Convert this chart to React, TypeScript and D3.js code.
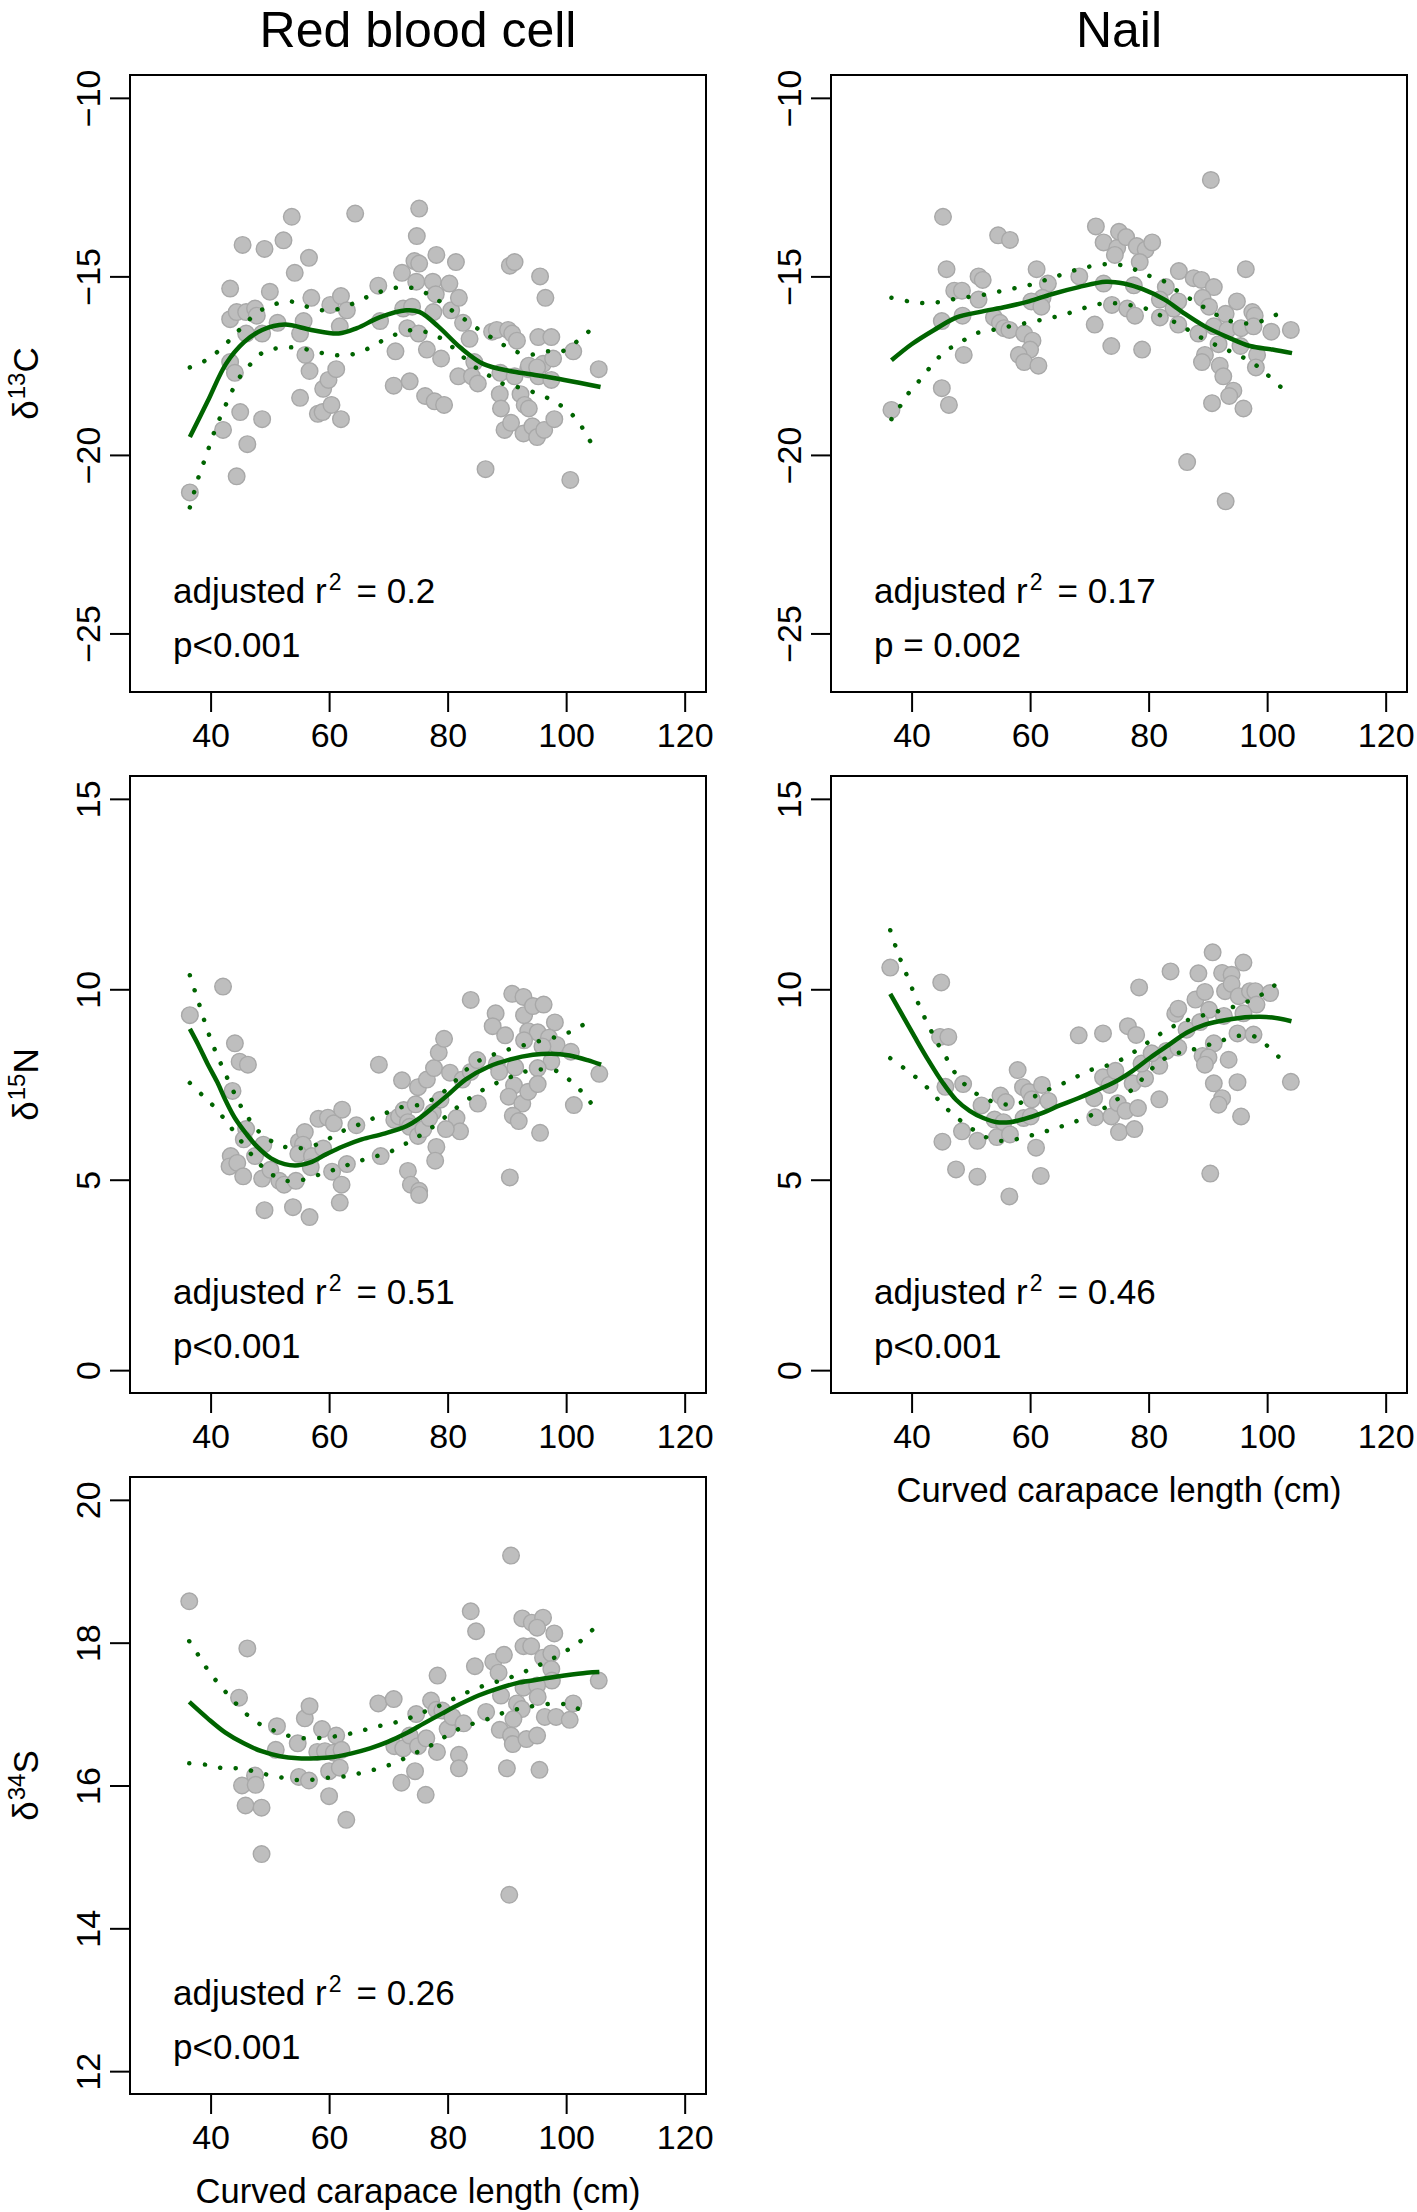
import { useRef, useEffect } from 'react'
import * as d3 from 'd3'

// scatter data: [curved carapace length (cm), isotope value]
const rbcC = [
  [36.5, -21.05], [43.3, -15.34], [45.4, -14.12], [49.1, -14.23], [52.3, -13.99], [53.7, -13.33], [54.2, -14.9], [56.6, -14.48],
  [64.4, -13.24], [50.0, -15.43], [43.3, -16.2], [44.4, -16.0], [46.0, -16.0], [47.5, -15.9], [47.8, -16.1], [46.0, -16.6],
  [48.7, -16.6], [51.3, -16.3], [43.3, -17.4], [44.1, -17.7], [45.0, -18.8], [48.7, -19.0], [42.1, -19.3], [46.2, -19.7],
  [44.4, -20.6], [55.1, -16.6], [55.7, -16.25], [57.0, -15.6], [56.0, -17.2], [56.7, -17.65], [55.1, -18.4], [58.1, -18.85],
  [58.9, -18.8], [59.0, -18.15], [59.9, -17.9], [61.2, -17.6], [60.4, -18.6], [62.0, -19.0], [60.2, -15.8], [62.0, -15.55],
  [63.0, -15.95], [61.8, -16.4], [68.3, -15.26], [68.6, -16.25], [71.2, -17.1], [70.9, -18.06], [73.6, -17.94], [72.3, -14.9],
  [75.2, -13.1], [74.8, -13.87], [74.4, -14.57], [75.2, -14.64], [74.7, -15.15], [72.5, -15.9], [74.0, -15.85], [73.2, -16.45],
  [75.1, -16.6], [78.1, -14.4], [77.5, -15.15], [76.5, -17.05], [78.9, -17.3], [76.2, -18.35], [77.8, -18.5], [79.4, -18.6],
  [81.4, -14.6], [80.3, -15.2], [78.0, -15.5], [77.6, -16.0], [80.6, -15.95], [81.9, -15.6], [82.6, -16.3], [83.7, -16.75],
  [84.5, -17.4], [81.8, -17.8], [84.1, -17.8], [85.1, -18.0], [86.4, -20.4], [87.5, -16.55], [88.3, -16.5], [88.9, -17.7],
  [90.2, -16.5], [90.9, -16.6], [91.7, -16.8], [91.3, -17.8], [88.8, -18.3], [89.0, -18.7], [89.6, -19.3], [90.7, -19.1],
  [92.8, -19.4], [92.3, -18.3], [93.0, -18.6], [93.7, -18.7], [93.6, -17.6], [94.3, -19.2], [95.1, -19.5], [96.3, -19.3],
  [90.5, -14.7], [91.3, -14.6], [95.6, -15.0], [96.5, -15.6], [95.3, -16.7], [97.5, -16.7], [96.1, -17.45], [97.8, -17.3],
  [95.3, -17.8], [97.5, -17.9], [98.0, -19.0], [101.2, -17.1], [100.7, -20.7], [105.5, -17.6], [93.7, -17.5], [95.1, -17.55],
]
const nailC = [
  [36.6, -18.74], [45.3, -13.33], [45.9, -14.8], [45.1, -16.25], [45.1, -18.13], [46.3, -18.6], [47.2, -15.4], [48.5, -15.4],
  [48.6, -16.1], [48.8, -17.2], [51.3, -15.0], [52.0, -15.1], [51.3, -15.65], [54.6, -13.85], [56.6, -13.98], [53.9, -16.15],
  [54.9, -16.3], [55.6, -16.45], [56.5, -16.5], [59.0, -16.6], [60.4, -16.8], [60.0, -17.05], [58.1, -17.2], [59.0, -17.4],
  [61.4, -17.5], [61.1, -14.8], [63.0, -15.2], [62.1, -15.6], [60.2, -15.7], [61.9, -15.85], [68.3, -15.0], [71.1, -13.6],
  [72.4, -14.05], [74.7, -14.2], [75.0, -13.75], [76.2, -13.9], [74.3, -14.4], [78.0, -14.15], [79.5, -14.25], [80.6, -14.05],
  [78.5, -14.6], [72.4, -15.2], [77.5, -15.25], [70.9, -16.35], [73.8, -15.8], [76.4, -15.9], [77.7, -16.1], [73.7, -16.95],
  [78.9, -17.05], [90.5, -12.3], [85.1, -14.85], [82.9, -15.3], [81.9, -15.65], [84.2, -15.9], [85.0, -15.7], [81.9, -16.15],
  [85.0, -16.35], [87.6, -15.05], [88.9, -15.1], [91.0, -15.3], [89.1, -15.6], [90.2, -15.85], [88.4, -16.6], [91.0, -16.4],
  [93.0, -16.05], [91.8, -16.9], [93.3, -16.5], [94.9, -15.7], [96.4, -14.8], [95.6, -16.45], [95.5, -16.95], [97.5, -16.0],
  [97.9, -16.1], [97.7, -16.4], [98.3, -17.2], [98.1, -17.55], [89.5, -17.2], [89.0, -17.4], [92.0, -17.5], [92.6, -17.8],
  [94.3, -18.2], [93.6, -18.35], [90.7, -18.55], [96.0, -18.7], [86.5, -20.2], [93.0, -21.3], [100.7, -16.55], [104.0, -16.5],
]
const rbcN = [
  [36.5, 9.32], [42.1, 10.07], [44.1, 8.58], [44.9, 8.1], [46.3, 8.02], [43.7, 7.33], [46.0, 6.33], [45.6, 6.06],
  [48.9, 5.92], [43.4, 5.62], [43.2, 5.35], [44.5, 5.44], [45.5, 5.09], [47.5, 5.62], [48.7, 5.03], [50.1, 5.26],
  [51.6, 4.97], [52.4, 4.87], [54.4, 4.97], [49.1, 4.2], [53.9, 4.28], [56.7, 4.02], [54.9, 6.0], [55.9, 6.25],
  [55.6, 5.92], [54.8, 5.68], [57.1, 5.62], [56.9, 5.33], [59.0, 5.82], [58.2, 6.6], [59.8, 6.63], [60.8, 6.48],
  [62.2, 6.84], [60.5, 5.21], [62.1, 4.87], [61.8, 4.4], [63.0, 5.41], [64.6, 6.43], [68.4, 8.02], [68.7, 5.62],
  [71.0, 6.57], [71.8, 6.66], [72.6, 6.83], [73.3, 6.51], [72.3, 7.61], [75.0, 7.43], [74.6, 6.98], [73.6, 6.39],
  [75.0, 6.15], [75.9, 6.33], [77.5, 6.77], [76.9, 6.62], [78.8, 7.1], [76.5, 7.63], [77.7, 7.93], [78.5, 8.34],
  [79.4, 8.7], [80.4, 7.81], [82.5, 7.63], [83.9, 7.83], [85.0, 8.14], [81.5, 6.62], [82.1, 6.27], [79.7, 6.33],
  [78.1, 5.86], [77.9, 5.5], [73.3, 5.23], [73.8, 4.87], [75.2, 4.71], [75.2, 4.6], [83.9, 9.72], [88.1, 9.37],
  [87.6, 9.03], [89.7, 8.79], [90.9, 9.88], [92.8, 9.8], [92.9, 9.32], [94.4, 9.56], [96.2, 9.6], [98.1, 9.13],
  [93.6, 8.9], [95.2, 8.87], [97.1, 8.73], [98.4, 8.54], [92.9, 8.66], [96.0, 8.5], [100.8, 8.36], [97.5, 8.1],
  [95.2, 7.93], [88.3, 8.04], [88.7, 7.83], [91.4, 7.95], [91.2, 7.48], [90.3, 7.18], [92.6, 7.0], [93.6, 7.31],
  [95.2, 7.51], [91.0, 6.68], [92.0, 6.54], [85.1, 7.0], [95.6, 6.23], [101.3, 6.96], [90.5, 5.06], [105.6, 7.78],
]
const nailN = [
  [36.4, 10.57], [45.0, 10.18], [44.8, 8.75], [46.2, 8.75], [45.7, 7.44], [48.7, 7.51], [45.2, 6.0], [48.5, 6.27],
  [47.5, 5.27], [51.1, 5.08], [51.1, 6.02], [51.8, 6.95], [54.4, 6.12], [55.0, 7.21], [55.9, 7.04], [54.0, 6.58],
  [55.5, 6.51], [56.6, 6.19], [56.5, 4.56], [57.9, 7.88], [58.8, 7.43], [59.8, 7.3], [58.9, 6.62], [60.1, 6.66],
  [60.3, 7.11], [62.0, 7.49], [63.1, 7.07], [61.0, 5.84], [61.8, 5.1], [68.2, 8.79], [72.3, 8.84], [76.5, 9.03],
  [77.9, 8.8], [78.4, 10.05], [72.3, 7.69], [73.4, 7.49], [74.4, 7.86], [70.8, 7.14], [71.0, 6.64], [73.7, 6.66],
  [74.8, 7.01], [76.1, 6.81], [78.2, 6.88], [75.0, 6.25], [77.6, 6.33], [77.3, 7.53], [79.4, 7.66], [78.8, 8.05],
  [81.8, 7.99], [80.5, 8.32], [81.8, 7.11], [83.7, 10.47], [84.5, 9.36], [85.0, 9.49], [83.0, 8.38], [85.0, 8.47],
  [86.4, 8.94], [88.4, 10.42], [90.8, 10.97], [87.9, 9.73], [89.5, 9.93], [90.2, 9.46], [88.7, 9.14], [92.4, 10.43],
  [94.0, 10.38], [92.9, 9.95], [94.0, 10.14], [96.0, 10.7], [95.2, 9.82], [97.1, 9.95], [98.0, 9.95], [98.2, 9.6],
  [100.5, 9.9], [96.0, 9.37], [92.7, 9.3], [91.0, 8.58], [89.1, 8.25], [90.1, 8.21], [89.5, 8.02], [93.5, 8.15],
  [95.0, 8.84], [97.7, 8.81], [91.0, 7.53], [92.4, 7.14], [91.8, 6.97], [95.0, 7.56], [95.6, 6.66], [90.4, 5.16],
  [104.0, 7.57],
]
const rbcS = [
  [36.4, 18.58], [46.2, 17.92], [44.8, 17.23], [45.3, 16.0], [47.5, 16.14], [47.6, 16.01], [45.9, 15.72], [48.6, 15.69],
  [48.6, 15.04], [51.2, 16.83], [51.0, 16.5], [54.7, 16.59], [55.9, 16.94], [56.7, 17.11], [54.9, 16.12], [56.6, 16.07],
  [58.8, 16.79], [61.2, 16.7], [58.0, 16.47], [59.3, 16.48], [60.8, 16.46], [62.1, 16.5], [60.0, 16.2], [61.8, 16.25],
  [60.0, 15.85], [62.9, 15.52], [68.3, 17.15], [70.9, 17.21], [71.0, 16.55], [72.5, 16.52], [73.6, 16.7], [74.7, 17.0],
  [75.0, 16.55], [76.4, 16.66], [74.5, 16.2], [72.2, 16.04], [76.3, 15.87], [77.2, 17.19], [78.1, 17.06], [79.1, 17.05],
  [78.3, 17.54], [80.0, 16.79], [78.2, 16.47], [80.8, 16.96], [82.7, 16.87], [81.9, 16.43], [81.9, 16.24], [83.9, 18.44],
  [84.8, 18.16], [84.6, 17.67], [86.5, 17.03], [87.7, 17.73], [89.5, 17.83], [88.6, 17.58], [89.0, 17.26], [90.7, 19.22],
  [92.6, 18.34], [94.2, 18.28], [96.1, 18.35], [95.1, 18.21], [98.0, 18.13], [92.8, 17.95], [94.1, 17.95], [96.1, 17.79],
  [97.5, 17.85], [97.5, 17.63], [97.6, 17.47], [92.8, 17.37], [95.1, 17.4], [95.2, 17.24], [91.7, 17.15], [92.5, 17.07],
  [91.1, 16.93], [88.8, 16.78], [90.7, 16.7], [91.0, 16.58], [93.3, 16.65], [95.1, 16.7], [96.4, 16.96], [98.3, 16.96],
  [100.6, 16.92], [101.2, 17.15], [105.5, 17.47], [90.0, 16.24], [95.5, 16.22], [90.4, 14.47],
]

// fitted smooth (solid) and its confidence band (dotted)
const rbcCFit = [[36.5, -19.5], [39.5, -18.5], [42.6, -17.45], [45.6, -16.85], [48.7, -16.5], [52.5, -16.35], [57.0, -16.5], [61.6, -16.6], [64.7, -16.45], [68.5, -16.15], [73.0, -15.95], [75.3, -16.0], [78.4, -16.4], [82.2, -17.0], [86.0, -17.45], [90.5, -17.65], [94.3, -17.75], [99.7, -17.9], [105.8, -18.1]]
const rbcCUp = [[36.5, -17.55], [39.2, -17.35], [41.6, -17.05], [43.7, -16.7], [45.7, -16.35], [48.0, -16.0], [50.5, -15.8], [53.4, -15.7], [56.3, -15.85], [59.1, -15.95], [62.0, -15.9], [64.8, -15.7], [67.5, -15.5], [70.3, -15.35], [73.2, -15.3], [76.1, -15.45], [78.7, -15.7], [81.1, -16.0], [83.7, -16.3], [85.8, -16.55], [88.3, -16.8], [90.8, -17.05], [93.6, -17.2], [96.6, -17.1], [99.3, -17.1], [102.0, -16.8], [104.1, -16.5]]
const rbcCLo = [[36.5, -21.47], [37.3, -21.0], [38.2, -20.5], [39.2, -20.05], [40.1, -19.6], [41.1, -19.15], [42.3, -18.7], [43.5, -18.25], [45.0, -17.8], [46.8, -17.45], [49.1, -17.1], [51.9, -17.0], [54.8, -17.0], [57.6, -17.1], [60.6, -17.2], [63.4, -17.2], [66.2, -17.05], [69.0, -16.8], [71.7, -16.6], [74.4, -16.5], [77.1, -16.6], [79.5, -16.8], [81.9, -17.15], [84.3, -17.5], [86.7, -17.75], [89.2, -18.0], [91.8, -18.1], [94.6, -18.25], [97.4, -18.45], [99.8, -18.7], [102.0, -19.05], [103.6, -19.5], [105.2, -19.9]]

const nailCFit = [[36.6, -17.35], [40.0, -16.9], [43.8, -16.5], [47.6, -16.15], [51.4, -16.0], [56.0, -15.85], [59.8, -15.7], [63.6, -15.5], [68.2, -15.3], [72.8, -15.15], [75.8, -15.2], [78.9, -15.35], [82.7, -15.65], [85.7, -16.0], [89.5, -16.4], [93.3, -16.7], [97.1, -16.95], [100.9, -17.05], [104.2, -17.15]]
const nailCUp = [[36.6, -15.6], [39.5, -15.7], [42.4, -15.75], [45.3, -15.7], [48.2, -15.6], [51.1, -15.55], [54.0, -15.45], [56.9, -15.35], [59.7, -15.25], [62.6, -15.1], [65.3, -14.95], [68.1, -14.8], [70.9, -14.7], [73.9, -14.65], [76.8, -14.75], [79.5, -14.95], [82.2, -15.1], [84.8, -15.4], [87.2, -15.65], [89.7, -15.9], [92.3, -16.15], [95.0, -16.3], [97.9, -16.3], [100.6, -16.15], [103.4, -15.9]]
const nailCLo = [[36.6, -19.0], [38.2, -18.6], [39.8, -18.2], [41.7, -17.85], [43.6, -17.45], [45.7, -17.1], [48.2, -16.85], [50.8, -16.6], [53.7, -16.5], [56.5, -16.4], [59.5, -16.3], [62.4, -16.2], [65.1, -16.1], [68.0, -15.95], [70.8, -15.8], [73.6, -15.75], [76.6, -15.8], [79.5, -15.9], [82.1, -16.1], [84.6, -16.3], [87.2, -16.55], [89.8, -16.8], [92.4, -17.0], [95.1, -17.2], [97.8, -17.45], [100.0, -17.75], [102.3, -18.1]]

const rbcNFit = [[36.5, 8.96], [38.0, 8.52], [39.5, 8.04], [41.1, 7.57], [42.6, 7.06], [44.1, 6.62], [46.0, 6.21], [47.9, 5.86], [50.2, 5.56], [52.5, 5.41], [54.8, 5.38], [57.1, 5.47], [59.4, 5.66], [62.4, 5.88], [65.5, 6.06], [69.3, 6.21], [73.1, 6.41], [75.4, 6.63], [77.7, 6.92], [80.0, 7.22], [83.0, 7.63], [86.8, 7.96], [90.6, 8.16], [94.4, 8.28], [97.5, 8.31], [100.6, 8.26], [103.6, 8.14], [105.9, 8.02]]
const rbcNUp = [[36.5, 10.37], [37.4, 9.93], [38.3, 9.5], [39.2, 9.05], [40.2, 8.61], [41.3, 8.2], [42.4, 7.81], [43.7, 7.37], [45.0, 6.96], [46.6, 6.57], [48.1, 6.27], [51.0, 5.95], [53.7, 5.83], [56.6, 5.86], [59.4, 6.03], [61.9, 6.25], [64.6, 6.42], [67.3, 6.6], [69.9, 6.77], [72.6, 6.92], [75.6, 6.98], [78.3, 7.19], [80.6, 7.48], [82.6, 7.81], [84.8, 8.08], [87.6, 8.28], [90.5, 8.43], [93.3, 8.55], [96.2, 8.67], [99.0, 8.78], [101.7, 8.96], [104.2, 9.2]]
const rbcNLo = [[36.5, 7.54], [38.6, 7.22], [40.7, 6.9], [42.6, 6.54], [44.3, 6.19], [46.2, 5.8], [48.1, 5.44], [50.2, 5.15], [52.9, 4.97], [55.7, 5.0], [58.6, 5.15], [61.4, 5.29], [64.1, 5.44], [67.0, 5.58], [69.8, 5.7], [72.6, 5.92], [75.2, 6.15], [77.5, 6.39], [79.8, 6.67], [82.1, 6.96], [84.5, 7.22], [87.0, 7.45], [89.7, 7.63], [92.4, 7.81], [95.2, 7.89], [98.1, 7.87], [100.7, 7.6], [102.8, 7.28], [104.7, 6.91]]

const nailNFit = [[36.4, 9.88], [38.3, 9.36], [40.6, 8.73], [42.9, 8.12], [45.2, 7.56], [47.5, 7.1], [49.8, 6.81], [52.1, 6.62], [54.4, 6.51], [56.6, 6.51], [58.9, 6.59], [62.0, 6.75], [65.0, 6.95], [68.1, 7.14], [71.1, 7.34], [74.2, 7.56], [77.3, 7.86], [80.3, 8.21], [83.4, 8.54], [86.4, 8.86], [89.5, 9.07], [93.3, 9.2], [97.1, 9.27], [100.9, 9.26], [104.1, 9.16]]
const nailNUp = [[36.4, 11.55], [37.4, 11.08], [38.4, 10.67], [39.5, 10.25], [40.6, 9.82], [41.8, 9.39], [43.1, 8.97], [44.4, 8.58], [45.9, 8.19], [47.4, 7.79], [49.4, 7.44], [51.8, 7.18], [54.6, 7.01], [57.4, 6.98], [60.1, 7.14], [62.7, 7.34], [65.6, 7.53], [68.2, 7.73], [70.9, 7.92], [73.7, 8.03], [76.5, 8.25], [79.0, 8.51], [81.3, 8.76], [83.7, 8.99], [86.4, 9.18], [89.3, 9.32], [92.1, 9.44], [94.9, 9.57], [97.7, 9.75], [100.2, 9.97], [102.4, 10.27]]
const nailNLo = [[36.4, 8.19], [38.8, 7.92], [41.1, 7.64], [43.3, 7.31], [45.2, 6.98], [47.4, 6.66], [49.8, 6.38], [52.2, 6.14], [55.0, 6.02], [57.9, 6.07], [60.8, 6.19], [63.7, 6.32], [66.4, 6.46], [69.2, 6.62], [71.8, 6.81], [74.4, 7.08], [77.0, 7.34], [79.2, 7.69], [81.5, 8.05], [84.1, 8.29], [86.6, 8.38], [89.5, 8.51], [92.1, 8.64], [94.9, 8.77], [97.7, 8.77], [100.2, 8.49], [102.4, 8.15]]

const rbcSFit = [[36.4, 17.17], [39.5, 16.94], [42.5, 16.74], [45.6, 16.59], [48.6, 16.48], [51.7, 16.41], [54.7, 16.38], [57.8, 16.38], [60.8, 16.4], [63.8, 16.45], [66.9, 16.52], [69.9, 16.61], [73.0, 16.73], [76.0, 16.87], [79.1, 17.01], [82.1, 17.14], [85.2, 17.26], [88.2, 17.35], [92.0, 17.44], [95.8, 17.49], [99.7, 17.54], [103.5, 17.58], [105.6, 17.59]]
const rbcSUp = [[36.4, 18.02], [37.9, 17.83], [39.6, 17.61], [41.4, 17.42], [43.4, 17.23], [45.4, 17.05], [47.7, 16.89], [50.1, 16.79], [53.0, 16.7], [55.9, 16.66], [59.0, 16.67], [61.9, 16.7], [64.8, 16.75], [67.7, 16.82], [70.6, 16.87], [73.4, 16.94], [76.0, 17.03], [78.7, 17.12], [81.4, 17.23], [84.0, 17.33], [86.9, 17.42], [89.8, 17.49], [92.6, 17.58], [95.3, 17.68], [97.8, 17.78], [100.3, 17.9], [102.7, 18.04], [104.8, 18.21]]
const rbcSLo = [[36.4, 16.31], [39.3, 16.29], [42.3, 16.24], [45.2, 16.24], [48.0, 16.18], [51.0, 16.13], [54.0, 16.08], [57.0, 16.08], [59.9, 16.11], [62.9, 16.13], [65.6, 16.18], [68.4, 16.24], [71.2, 16.32], [73.9, 16.43], [76.5, 16.53], [79.1, 16.66], [81.6, 16.78], [84.4, 16.87], [87.1, 16.94], [89.8, 17.03], [92.4, 17.08], [95.1, 17.12], [98.7, 17.15], [101.3, 17.1], [104.0, 16.99]]

const xTicks = [40, 60, 80, 100, 120]
const cTicks = [-25, -20, -15, -10]
const nTicks = [0, 5, 10, 15]
const sTicks = [12, 14, 16, 18, 20]

const r2Labels = ['0.2', '0.17', '0.51', '0.46', '0.26']
const pLabels = ['p<0.001', 'p = 0.002', 'p<0.001', 'p<0.001', 'p<0.001']
const titles = ['Red blood cell', 'Nail']

const FONT = '"Liberation Sans", Arial, Helvetica, sans-serif'
const W = 1417
const H = 2212
const boxW = 576
const boxH = 617
const colLeft = [130, 831]
const rowTop = [75, 776, 1477]
const green = '#006400'

const panels = [
  { col: 0, row: 0, pts: rbcC, fit: rbcCFit, up: rbcCUp, lo: rbcCLo, ylim: [-26, -10], ticks: cTicks, iso: '13', el: 'C', xlab: false },
  { col: 1, row: 0, pts: nailC, fit: nailCFit, up: nailCUp, lo: nailCLo, ylim: [-26, -10], ticks: cTicks, iso: '', el: '', xlab: false },
  { col: 0, row: 1, pts: rbcN, fit: rbcNFit, up: rbcNUp, lo: rbcNLo, ylim: [0, 15], ticks: nTicks, iso: '15', el: 'N', xlab: false },
  { col: 1, row: 1, pts: nailN, fit: nailNFit, up: nailNUp, lo: nailNLo, ylim: [0, 15], ticks: nTicks, iso: '', el: '', xlab: true },
  { col: 0, row: 2, pts: rbcS, fit: rbcSFit, up: rbcSUp, lo: rbcSLo, ylim: [12, 20], ticks: sTicks, iso: '34', el: 'S', xlab: true },
]

// R-style 4% axis expansion
const expand = ([a, b]: number[]) => {
  const d = (b - a) * 0.04
  return [a - d, b + d]
}

const App = () => {
  const ref = useRef<SVGSVGElement>(null)

  useEffect(() => {
    document.body.style.margin = '0'
    const svg = d3.select(ref.current as SVGSVGElement)
    svg.selectAll('*').remove()
    svg.append('rect').attr('width', W).attr('height', H).attr('fill', '#fff')

    const x = d3.scaleLinear().domain(expand([30, 120])).range([0, boxW])

    titles.forEach((t, i) => {
      svg
        .append('text')
        .attr('x', colLeft[i] + boxW / 2)
        .attr('y', 47)
        .attr('text-anchor', 'middle')
        .attr('font-size', 50)
        .attr('font-family', FONT)
        .text(t)
    })

    panels.forEach((p, i) => {
      const y = d3.scaleLinear().domain(expand(p.ylim)).range([boxH, 0])
      const g = svg.append('g').attr('transform', `translate(${colLeft[p.col]},${rowTop[p.row]})`)

      // points
      g.append('g')
        .selectAll('circle')
        .data(p.pts)
        .enter()
        .append('circle')
        .attr('cx', (d) => x(d[0]))
        .attr('cy', (d) => y(d[1]))
        .attr('r', 8.3)
        .attr('fill', '#bebebe')
        .attr('stroke', '#a8a8a8')
        .attr('stroke-width', 1.4)

      const line = d3
        .line<number[]>()
        .x((d) => x(d[0]))
        .y((d) => y(d[1]))
        .curve(d3.curveCatmullRom.alpha(0.5))

      ;[p.up, p.lo].forEach((band) => {
        g.append('path')
          .attr('d', line(band))
          .attr('fill', 'none')
          .attr('stroke', green)
          .attr('stroke-width', 4.5)
          .attr('stroke-linecap', 'round')
          .attr('stroke-dasharray', '0.1 15.5')
      })

      g.append('path')
        .attr('d', line(p.fit))
        .attr('fill', 'none')
        .attr('stroke', green)
        .attr('stroke-width', 4.5)

      // box
      g.append('rect')
        .attr('width', boxW)
        .attr('height', boxH)
        .attr('fill', 'none')
        .attr('stroke', '#000')
        .attr('stroke-width', 2)

      // x axis
      const xa = g
        .append('g')
        .attr('transform', `translate(0,${boxH})`)
        .call(d3.axisBottom(x).tickValues(xTicks).tickSize(20).tickFormat(d3.format('d')))
      xa.select('.domain').remove()
      xa.selectAll('line').attr('stroke-width', 2)
      xa.selectAll('text')
        .attr('y', 55)
        .attr('dy', null)
        .attr('fill', '#000')
        .attr('font-size', 34)
        .attr('font-family', FONT)

      // y axis, labels rotated like R's default las = 0
      const ya = g.append('g').call(d3.axisLeft(y).tickValues(p.ticks).tickSize(20).tickFormat(d3.format('d')))
      ya.select('.domain').remove()
      ya.selectAll('line').attr('stroke-width', 2)
      ya.selectAll('text')
        .attr('transform', 'rotate(-90)')
        .attr('x', 0)
        .attr('y', -30)
        .attr('dy', null)
        .attr('text-anchor', 'middle')
        .attr('fill', '#000')
        .attr('font-size', 34)
        .attr('font-family', FONT)

      // y label: delta with superscript mass number
      if (p.iso) {
        const yl = g
          .append('text')
          .attr('transform', `translate(-92,${boxH / 2}) rotate(-90)`)
          .attr('text-anchor', 'middle')
          .attr('font-size', 35)
          .attr('font-family', FONT)
        yl.append('tspan').text('δ')
        yl.append('tspan').attr('font-size', 24).attr('dy', -13).attr('dx', 1).text(p.iso)
        yl.append('tspan').attr('dy', 13).text(p.el)
      }

      if (p.xlab) {
        g.append('text')
          .attr('x', boxW / 2)
          .attr('y', boxH + 109)
          .attr('text-anchor', 'middle')
          .attr('font-size', 34.5)
          .attr('font-family', FONT)
          .text('Curved carapace length (cm)')
      }

      // fit statistics
      const st = g
        .append('text')
        .attr('x', 43)
        .attr('y', boxH - 89)
        .attr('font-size', 35)
        .attr('font-family', FONT)
      st.append('tspan').text('adjusted r')
      st.append('tspan').attr('font-size', 23).attr('dy', -13).attr('dx', 2).text('2')
      st.append('tspan').attr('dy', 13).attr('dx', 15).text(`= ${r2Labels[i]}`)

      g.append('text')
        .attr('x', 43)
        .attr('y', boxH - 35)
        .attr('font-size', 35)
        .attr('font-family', FONT)
        .text(pLabels[i])
    })
  }, [])

  return <svg ref={ref} width={W} height={H} style={{ display: 'block' }} />
}

export default App
